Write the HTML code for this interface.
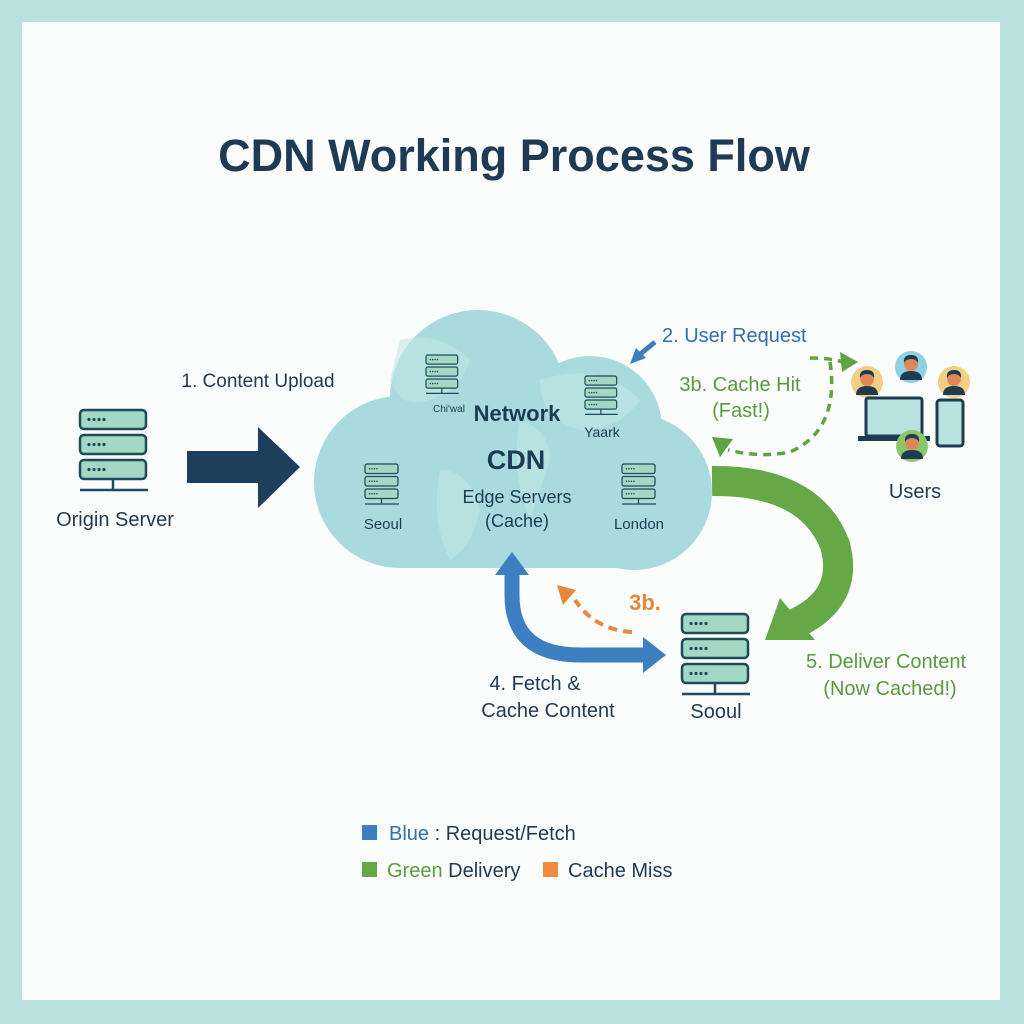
<!DOCTYPE html>
<html><head><meta charset="utf-8"><style>
body{margin:0;background:#b9e1dd;}
svg{display:block;font-family:"Liberation Sans",sans-serif;}
</style></head><body>
<svg width="1024" height="1024" viewBox="0 0 1024 1024">
<defs>
<g id="srv">
<rect x="0" y="0" width="66" height="19" rx="4" fill="#a3d8c4" stroke="#1f4a5a" stroke-width="2.5"/>
<rect x="0" y="25" width="66" height="19" rx="4" fill="#a3d8c4" stroke="#1f4a5a" stroke-width="2.5"/>
<rect x="0" y="50" width="66" height="19" rx="4" fill="#a3d8c4" stroke="#1f4a5a" stroke-width="2.5"/>
<g fill="#1f4a5a"><circle cx="9" cy="9.5" r="1.6"/><circle cx="14" cy="9.5" r="1.6"/><circle cx="19" cy="9.5" r="1.6"/><circle cx="24" cy="9.5" r="1.6"/>
<circle cx="9" cy="34.5" r="1.6"/><circle cx="14" cy="34.5" r="1.6"/><circle cx="19" cy="34.5" r="1.6"/><circle cx="24" cy="34.5" r="1.6"/>
<circle cx="9" cy="59.5" r="1.6"/><circle cx="14" cy="59.5" r="1.6"/><circle cx="19" cy="59.5" r="1.6"/><circle cx="24" cy="59.5" r="1.6"/></g>
<line x1="33" y1="69" x2="33" y2="80" stroke="#1f4a5a" stroke-width="2.5"/>
<line x1="0" y1="80" x2="68" y2="80" stroke="#1f4a5a" stroke-width="2.5"/>
</g>
<g id="user"><circle r="16" /><circle cy="-3" r="7" fill="#e0875a"/><path d="M-11,13 Q-11,4 0,4 Q11,4 11,13Z" fill="#1f3b52"/><path d="M-7,-4 Q-8,-12 0,-12 Q8,-12 7,-4 Q5,-8 0,-8 Q-5,-8 -7,-4Z" fill="#1f3b52"/></g>
</defs>
<rect x="22" y="22" width="978" height="978" fill="#fbfdfd"/>
<text x="514" y="171" text-anchor="middle" font-size="45" font-weight="bold" fill="#1e3a55">CDN Working Process Flow</text>

<!-- cloud -->
<g fill="#a9dadd">
<circle cx="400" cy="482" r="86"/>
<circle cx="478" cy="398" r="88"/>
<circle cx="590" cy="428" r="72"/>
<circle cx="634" cy="492" r="78"/>
<rect x="400" y="420" width="234" height="148"/>
</g>
<g fill="#c3e6e4" opacity="0.6">
<path d="M400,340 q40,-10 70,20 q-10,30 -40,40 q-30,10 -40,-20z"/>
<path d="M540,380 q60,-20 100,20 q-20,30 -60,30 q-40,-10 -40,-50z"/>
<path d="M440,470 q30,0 40,40 q-10,40 -30,50 q-20,-40 -10,-90z"/>
<path d="M520,420 q30,10 30,40 q-10,30 -20,60 q-20,-50 -10,-100z"/>
</g>
<use href="#srv" transform="translate(426,355) scale(0.48)"/>
<use href="#srv" transform="translate(585,376) scale(0.48)"/>
<use href="#srv" transform="translate(365,464) scale(0.5)"/>
<use href="#srv" transform="translate(622,464) scale(0.5)"/>
<text x="433" y="412" font-size="10" fill="#1e3a55">Chi'wal</text>
<text x="602" y="437" font-size="14" fill="#1e3a55" text-anchor="middle">Yaark</text>
<text x="383" y="529" font-size="15" fill="#1e3a55" text-anchor="middle">Seoul</text>
<text x="639" y="529" font-size="15" fill="#1e3a55" text-anchor="middle">London</text>
<text x="517" y="421" font-size="22" font-weight="bold" fill="#1e3a55" text-anchor="middle">Network</text>
<text x="516" y="469" font-size="27" font-weight="bold" fill="#1e3a55" text-anchor="middle">CDN</text>
<text x="517" y="503" font-size="18" fill="#1e3a55" text-anchor="middle">Edge Servers</text>
<text x="517" y="527" font-size="18" fill="#1e3a55" text-anchor="middle">(Cache)</text>

<!-- origin -->
<use href="#srv" transform="translate(80,410)"/>
<text x="115" y="526" font-size="20" fill="#1e3a55" text-anchor="middle">Origin Server</text>
<text x="258" y="387" font-size="19" fill="#1e3a55" text-anchor="middle">1. Content Upload</text>
<path d="M187,451 H258 V427 L300,467 L258,508 V483 H187Z" fill="#1d3f5c"/>

<!-- user request -->
<text x="662" y="342" font-size="20" fill="#2f6fae">2. User Request</text>
<path d="M655,342 L638,356" stroke="#3a7fc0" stroke-width="5"/>
<path d="M630,364 L636,348 L646,358Z" fill="#3a7fc0"/>

<!-- cache hit -->
<text x="740" y="391" font-size="20" fill="#5a9a3e" text-anchor="middle">3b. Cache Hit</text>
<text x="741" y="417" font-size="20" fill="#5a9a3e" text-anchor="middle">(Fast!)</text>
<path d="M810,358 Q830,358 843,362" stroke="#5fa342" stroke-width="3.5" fill="none" stroke-dasharray="8,6"/>
<path d="M858,362 L840,352 L842,372Z" fill="#5fa342"/>
<path d="M830,362 Q840,430 790,452 Q760,458 728,450" stroke="#5fa342" stroke-width="3.5" fill="none" stroke-dasharray="8,6"/>
<path d="M712,437 L733,439 L720,457Z" fill="#5fa342"/>

<!-- users -->
<g fill="#f3cf86"><use href="#user" transform="translate(867,382)"/><use href="#user" transform="translate(954,382)"/></g>
<g fill="#8ed0e6"><use href="#user" transform="translate(911,367)"/></g>
<rect x="866" y="398" width="56" height="38" rx="2" fill="#b7e2e0" stroke="#1f3b52" stroke-width="3"/>
<rect x="858" y="436" width="72" height="5" fill="#1f3b52"/>
<rect x="937" y="400" width="26" height="46" rx="3" fill="#b7e2e0" stroke="#1f3b52" stroke-width="3"/>
<g fill="#8cc66a"><use href="#user" transform="translate(912,446)"/></g>
<text x="915" y="498" font-size="20" fill="#1e3a55" text-anchor="middle">Users</text>

<!-- big green -->
<path d="M712,481 Q810,480 835,545 Q850,600 792,625" stroke="#67a846" stroke-width="30" fill="none"/>
<path d="M765,640 L780,598 L815,640Z" fill="#67a846"/>

<!-- blue fetch -->
<path d="M512,572 V595 Q512,655 580,655 H645" stroke="#3d80c1" stroke-width="15" fill="none"/>
<path d="M512,552 L495,575 L529,575Z" fill="#3d80c1"/>
<path d="M666,655 L643,637 L643,673Z" fill="#3d80c1"/>
<path d="M632,632 Q595,630 575,600" stroke="#e8873c" stroke-width="4" fill="none" stroke-dasharray="9,6"/>
<path d="M557,585 L576,590 L563,605Z" fill="#e8873c"/>
<text x="645" y="610" font-size="22" font-weight="bold" fill="#e8873c" text-anchor="middle">3b.</text>
<text x="535" y="690" font-size="20" fill="#1e3a55" text-anchor="middle">4. Fetch &amp;</text>
<text x="548" y="717" font-size="20" fill="#1e3a55" text-anchor="middle">Cache Content</text>

<!-- seoul server -->
<use href="#srv" transform="translate(682,614)"/>
<text x="716" y="718" font-size="20" fill="#1e3a55" text-anchor="middle">Sooul</text>
<text x="886" y="668" font-size="20" fill="#5a9a3e" text-anchor="middle">5. Deliver Content</text>
<text x="890" y="695" font-size="20" fill="#5a9a3e" text-anchor="middle">(Now Cached!)</text>

<!-- legend -->
<rect x="362" y="825" width="15" height="15" fill="#3d80c1"/>
<text x="389" y="840" font-size="20" fill="#1e3a55"><tspan fill="#2f6fae">Blue</tspan> : Request/Fetch</text>
<rect x="362" y="862" width="15" height="15" fill="#67a846"/>
<text x="387" y="877" font-size="20" fill="#1e3a55"><tspan fill="#5a9a3e">Green</tspan> Delivery</text>
<rect x="543" y="862" width="15" height="15" fill="#ee8b3c"/>
<text x="568" y="877" font-size="20" fill="#1e3a55">Cache Miss</text>
</svg>
</body></html>
